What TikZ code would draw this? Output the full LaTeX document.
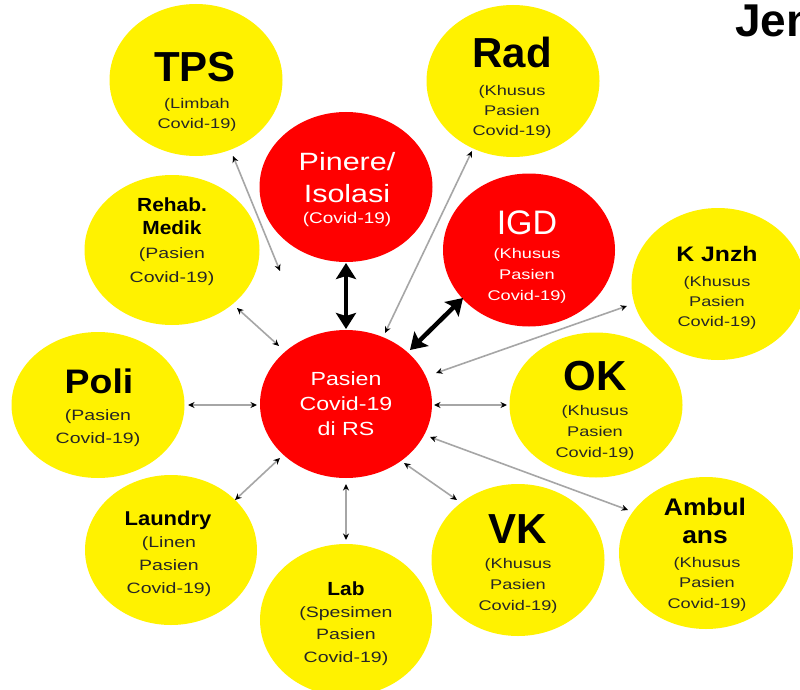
\documentclass[tikz,border=0pt]{standalone}
\usepackage{fontspec}
\setmainfont{Liberation Sans}
\newfontfamily\subf[FakeStretch=1.3]{Liberation Sans}
\newfontfamily\whf[FakeStretch=1.22]{Liberation Sans}
\newfontfamily\midf[FakeStretch=1.1]{Liberation Sans}
\newfontfamily\kjf[FakeStretch=1.18]{Liberation Sans}
\usetikzlibrary{shapes.geometric,arrows.meta}
\begin{document}
\begin{tikzpicture}[x=1pt,y=-1pt,
  yc/.style={ellipse,fill=yellow,draw=none,inner sep=0pt,minimum width=173pt,minimum height=152pt},
  rc/.style={ellipse,fill=red,draw=none,inner sep=0pt,minimum width=173pt,minimum height=150pt},
  ttl/.style={anchor=base,inner sep=0pt,font=\bfseries\fontsize{#1}{#1}\selectfont},
  mttl/.style={anchor=base,inner sep=0pt,font=\midf\bfseries\fontsize{#1}{#1}\selectfont},
  sub/.style={anchor=north,inner sep=0pt,align=center,text=black!85,font=\subf\fontsize{14}{20}\selectfont},
  thinarrow/.style={draw=black!35,line width=1.6pt,{Stealth[length=6.5pt,width=6pt,color=black]}-{Stealth[length=6.5pt,width=6pt,color=black]}},
  thickarrow/.style={draw=black,line width=4.5pt,{Stealth[length=16pt,width=20pt,inset=3pt]}-{Stealth[length=16pt,width=20pt,inset=3pt]}}
]
\useasboundingbox (0,0) rectangle (800,690);
\fill[white] (0,0) rectangle (800,690);

% circles
\node[yc] (tps) at (196,80) {};
\node[yc] (rad) at (513,81) {};
\node[rc] (pin) at (346,187) {};
\node[rc,minimum width=172pt,minimum height=153pt] (igd) at (529,250) {};
\node[yc] (kjz) at (718,284) {};
\node[yc,minimum width=175pt,minimum height=150pt] (reh) at (172,250) {};
\node[yc,minimum height=146pt] (pol) at (98,405) {};
\node[rc,minimum width=172pt,minimum height=148pt] (pas) at (346,404) {};
\node[yc,minimum height=145pt] (ok) at (596,405) {};
\node[yc] (vk) at (518,560) {};
\node[yc,minimum width=174pt] (amb) at (706,553) {};
\node[yc,minimum width=172pt,minimum height=150pt] (lau) at (171,550) {};
\node[yc,minimum width=172pt] (lab) at (346,620) {};

% titles
\node[ttl=42] (tpsT) at (195,82) {TPS};
\node[ttl=42] (radT) at (512,68) {Rad};
\node[anchor=base,inner sep=0pt,text=white,font=\fontsize{34}{34}\selectfont] (igdT) at (527,234) {IGD};
\node[anchor=base,inner sep=0pt,font=\kjf\bfseries\fontsize{21}{21}\selectfont] (kjzT) at (717,261) {K Jnzh};
\node[mttl=34] (polT) at (99,393) {Poli};
\node[ttl=42] (okT) at (595,390) {OK};
\node[ttl=42] (vkT) at (518,543) {VK};
\node[mttl=19] (labT) at (346,595) {Lab};
\node[mttl=20] (lauT) at (168,525) {Laundry};
\node[anchor=north,inner sep=0pt,align=center,font=\midf\bfseries\fontsize{19}{23}\selectfont] (rehT) at (172,198) {Rehab.\\Medik};
\node[anchor=north,inner sep=0pt,align=center,text=white,font=\whf\fontsize{25}{32}\selectfont] (pinT) at (347,152) {Pinere/\\Isolasi};
\node[anchor=north,inner sep=0pt,align=center,font=\midf\bfseries\fontsize{24}{28}\selectfont] (ambT) at (705,497.5) {Ambul\\ans};
\node[anchor=north,inner sep=0pt,align=center,text=white,font=\whf\fontsize{19}{25}\selectfont] (pasT) at (346,372) {Pasien\\Covid-19\\di RS};
\node[anchor=base west,inner sep=0pt,font=\bfseries\fontsize{46}{46}\selectfont] (jen) at (735,37) {Jen};

% subtitles
\node[sub] (tpsS) at (197,98) {(Limbah\\Covid-19)};
\node[sub] (radS) at (512,85) {(Khusus\\Pasien\\Covid-19)};
\node[sub,text=white,font=\subf\fontsize{14}{21}\selectfont] (igdS) at (527,248) {(Khusus\\Pasien\\Covid-19)};
\node[sub] (kjzS) at (717,276) {(Khusus\\Pasien\\Covid-19)};
\node[sub,font=\subf\fontsize{15}{24}\selectfont] (rehS) at (172,247) {(Pasien\\Covid-19)};
\node[sub,font=\subf\fontsize{15}{23}\selectfont] (polS) at (98,409) {(Pasien\\Covid-19)};
\node[sub,font=\subf\fontsize{14}{21}\selectfont] (okS) at (595,405) {(Khusus\\Pasien\\Covid-19)};
\node[sub,font=\subf\fontsize{14}{21}\selectfont] (vkS) at (518,558) {(Khusus\\Pasien\\Covid-19)};
\node[sub,font=\subf\fontsize{14}{20.5}\selectfont] (ambS) at (707,557) {(Khusus\\Pasien\\Covid-19)};
\node[sub,font=\subf\fontsize{15}{23}\selectfont] (lauS) at (169,536) {(Linen\\Pasien\\Covid-19)};
\node[sub,font=\subf\fontsize{15}{22.5}\selectfont] (labS) at (346,606) {(Spesimen\\Pasien\\Covid-19)};
\node[anchor=base,inner sep=0pt,text=white,font=\whf\fontsize{15.5}{18}\selectfont] (pinS) at (347,223) {(Covid-19)};

% connector end points
\coordinate (tpsA) at (233,156);  \coordinate (tpsB) at (280,271);
\coordinate (radA) at (472,151);  \coordinate (radB) at (385,333);
\coordinate (rehA) at (237,308);  \coordinate (rehB) at (279,346);
\coordinate (pinA) at (346,263);  \coordinate (pinB) at (346,329);
\coordinate (igdA) at (463,298);  \coordinate (igdB) at (410,350);
\coordinate (kjzA) at (627,306);  \coordinate (kjzB) at (436,373);
\coordinate (polA) at (188,405);  \coordinate (polB) at (257,405);
\coordinate (okA) at (434,405);   \coordinate (okB) at (507,405);
\coordinate (ambA) at (430,437);  \coordinate (ambB) at (628,510);
\coordinate (vkA) at (404,463);   \coordinate (vkB) at (457,500);
\coordinate (labA) at (346,484);  \coordinate (labB) at (346,540);
\coordinate (lauA) at (280,458);  \coordinate (lauB) at (235,500);

% connectors
\draw[thinarrow] (tpsA) -- (tpsB);
\draw[thinarrow] (radA) -- (radB);
\draw[thinarrow] (rehA) -- (rehB);
\draw[thinarrow] (kjzA) -- (kjzB);
\draw[thinarrow] (polA) -- (polB);
\draw[thinarrow] (okA) -- (okB);
\draw[thinarrow] (ambA) -- (ambB);
\draw[thinarrow] (vkA) -- (vkB);
\draw[thinarrow] (labA) -- (labB);
\draw[thinarrow] (lauA) -- (lauB);
\draw[thickarrow] (pinA) -- (pinB);
\draw[thickarrow] (igdA) -- (igdB);
\end{tikzpicture}
\end{document}
